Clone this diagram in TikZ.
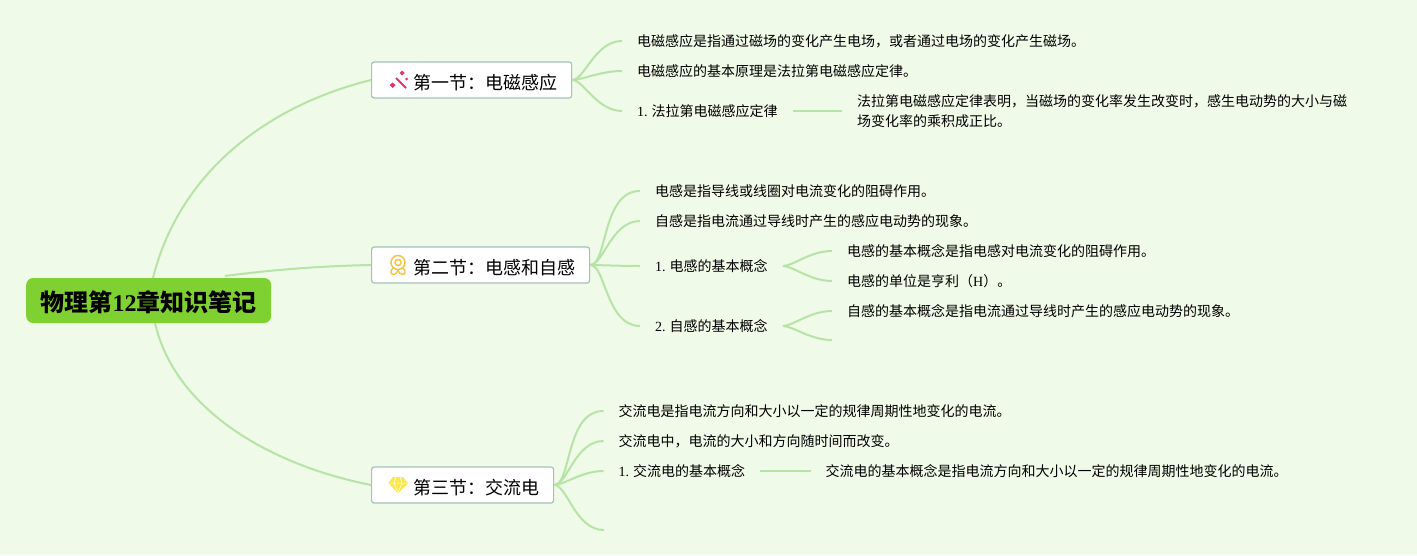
\documentclass[tikz,border=0pt]{standalone}
\usepackage{fontspec}
\setmainfont{Liberation Serif}
\newfontfamily\cjk{Noto Sans CJK SC}
\definecolor{paper}{HTML}{F0FAE8}
\definecolor{twig}{HTML}{B6E3A6}
\definecolor{rootgreen}{HTML}{7FD132}
\definecolor{boxline}{HTML}{A3C2B8}
\definecolor{wandpink}{HTML}{E8316F}
\definecolor{medalgold}{HTML}{F7C244}
\definecolor{gemyellow}{HTML}{FBE74B}
\tikzset{
	root/.style={fill=rootgreen, rounded corners=7pt, anchor=west, inner xsep=14.5pt, minimum height=45pt, text height=24pt, text depth=2pt, font=\fontsize{24}{28}\selectfont\bfseries},
	section/.style={draw=boxline, line width=1.2pt, fill=white, rounded corners=2.5pt, anchor=west, inner xsep=14.25pt, minimum height=36pt, text height=20pt, text depth=1pt, font=\fontsize{18}{22}\selectfont, execute at begin node=\hspace{27.5pt}},
	leaf/.style={anchor=west, inner xsep=15pt, inner ysep=2pt, align=left, font=\fontsize{14}{20}\selectfont},
	twigline/.style={draw=twig, line width=2pt},
	branch/.style={twigline, out=0, in=180, out looseness=0.5, in looseness=1.1},
}
\begin{document}
\begin{tikzpicture}[x=1pt, y=-1pt]
\fill [paper] (0,0) rectangle (1417,555);
\useasboundingbox (0,0) rectangle (1417,555);

\node [root] (root) at (26,300.5) {\cjk 物理第{\rmfamily 12}章知识笔记};
\coordinate (root-a) at (153,278);
\coordinate (root-b) at (225,276);
\coordinate (root-c) at (155,323);

\node [section] (sec-1) at (371,80) {\cjk 第一节：电磁感应};
\node [section] (sec-2) at (371,265) {\cjk 第二节：电感和自感};
\node [section] (sec-3) at (371,485) {\cjk 第三节：交流电};

%first level text
\foreach \n/\x/\y/\t in {
	1-1/622/41/{\cjk 电磁感应是指通过磁场的变化产生电场，或者通过电场的变化产生磁场。},
	1-2/622/71/{\cjk 电磁感应的基本原理是法拉第电磁感应定律。},
	1-3/622/111/{1.\hspace{4pt}{\cjk 法拉第电磁感应定律}},
	2-1/640/191/{\cjk 电感是指导线或线圈对电流变化的阻碍作用。},
	2-2/640/221/{\cjk 自感是指电流通过导线时产生的感应电动势的现象。},
	2-3/640/266/{1.\hspace{4pt}{\cjk 电感的基本概念}},
	2-4/640/326/{2.\hspace{4pt}{\cjk 自感的基本概念}},
	3-1/603.5/411/{\cjk 交流电是指电流方向和大小以一定的规律周期性地变化的电流。},
	3-2/603.5/441/{\cjk 交流电中，电流的大小和方向随时间而改变。},
	3-3/603.5/471/{1.\hspace{4pt}{\cjk 交流电的基本概念}}}
	\node [leaf] (leaf-\n) at (\x,\y) {\t};

%second level text
\node [leaf] (sub-1) at (842,111) {\cjk 法拉第电磁感应定律表明，当磁场的变化率发生改变时，感生电动势的大小与磁\\\cjk 场变化率的乘积成正比。};
\node [leaf] (sub-2a) at (832,251) {\cjk 电感的基本概念是指电感对电流变化的阻碍作用。};
\node [leaf] (sub-2b) at (832,281) {{\cjk 电感的单位是亨利（}H{\cjk ）。}};
\node [leaf] (sub-3a) at (832,311) {\cjk 自感的基本概念是指电流通过导线时产生的感应电动势的现象。};
\node [leaf] (sub-4) at (810.5,471) {\cjk 交流电的基本概念是指电流方向和大小以一定的规律周期性地变化的电流。};
\coordinate (sub-3b) at (832,340);
\coordinate (leaf-3-4) at (604,530);

%drawing part
\draw [twigline] (root-a) .. controls (180,170) and (270,105) .. (sec-1.west);
\draw [twigline] (root-b) .. controls (270,270) and (320,266) .. (sec-2.west);
\draw [twigline] (root-c) .. controls (175,410) and (270,465) .. (sec-3.west);

\foreach \i in {1,2,3}
	\draw [branch] (sec-1.east) to (leaf-1-\i.west);
\foreach \i in {1,...,4}
	\draw [branch] (sec-2.east) to (leaf-2-\i.west);
\foreach \i in {1,...,3}
	\draw [branch] (sec-3.east) to (leaf-3-\i.west);
\draw [branch] (sec-3.east) to (leaf-3-4);

\draw [twigline] (leaf-1-3.east) -- (sub-1.west);
\draw [twigline] (leaf-3-3.east) -- (sub-4.west);
\draw [branch] (leaf-2-3.east) to (sub-2a.west);
\draw [branch] (leaf-2-3.east) to (sub-2b.west);
\draw [branch] (leaf-2-4.east) to (sub-3a.west);
\draw [branch] (leaf-2-4.east) to (sub-3b);

%icons
\draw [wandpink, line width=1.8pt] (396,78) -- (406,88);
\fill [wandpink] (389.5,85) -- (392.5,82.5) -- (395.5,85) -- (392.5,88) -- cycle;
\fill [wandpink] (402,70.5) -- (404.5,73) -- (402,75.5) -- (399.5,73) -- cycle;
\fill [wandpink] (405,79) -- (406.5,77.5) -- (408,79) -- (406.5,80.5) -- cycle;

\draw [medalgold, line width=1.5pt] (398,262.5) circle (7);
\draw [medalgold, line width=1.5pt] (398,262.5) circle (3);
\draw [medalgold, line width=1.4pt, line join=round] (393.5,268) .. controls (390,270) and (390,275) .. (394,274.5) .. controls (396,274.5) and (397,272) .. (398,270.5) .. controls (399,272) and (400,274.5) .. (402,274.5) .. controls (406,275) and (406,270) .. (402.5,268);

\fill [gemyellow] (393,477) -- (403,477) -- (408,483) -- (398,493.5) -- (388.5,483) -- cycle;
\draw [white, line width=0.5pt] (389,483) -- (407.5,483) (394,483) -- (398,493) -- (402,483) (394,483) -- (396,477) (402,483) -- (400,477);

\end{tikzpicture}
\end{document}
